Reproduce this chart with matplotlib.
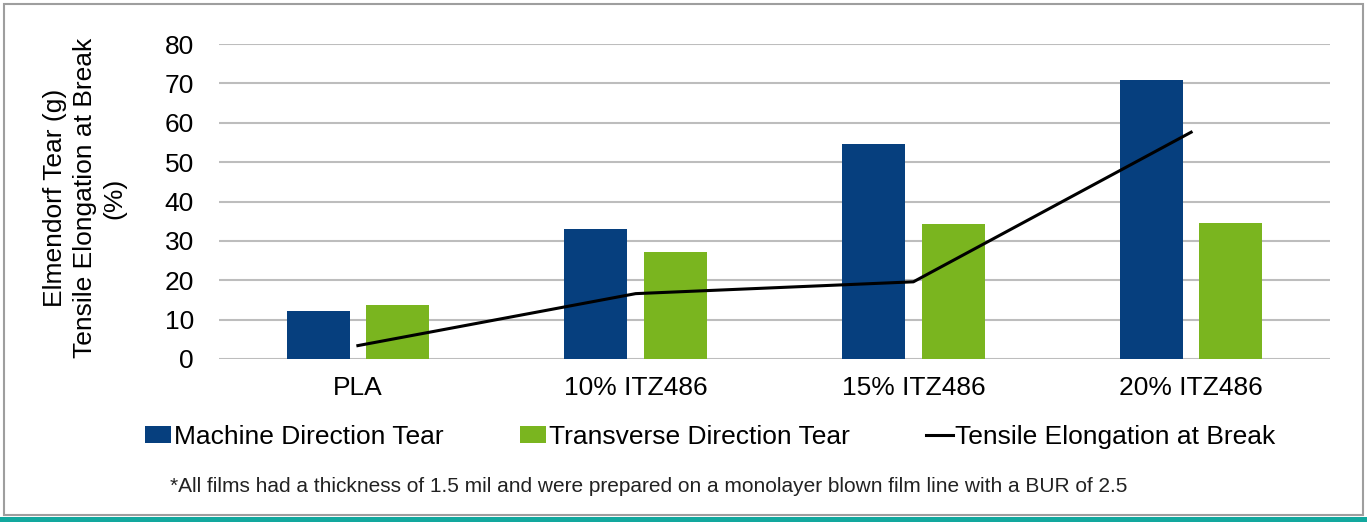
import numpy as np
import matplotlib.pyplot as plt
from matplotlib.patches import Rectangle

plt.rcParams['font.family'] = ['Liberation Sans', 'DejaVu Sans']

categories = ['PLA', '10% ITZ486', '15% ITZ486', '20% ITZ486']
md_tear = [12.3, 33.0, 54.7, 70.8]
td_tear = [13.8, 27.2, 34.3, 34.5]
elongation = [3.4, 16.6, 19.6, 57.6]

navy = '#063F7E'
green = '#7AB51F'
teal = '#12A89E'
fs = 19

fig = plt.figure(figsize=(13.67, 5.22), dpi=100)
ax = fig.add_axes([219/1367, 1-359/522, 1111/1367, 315/522])

x = np.arange(len(categories))
w = 0.227
off = 0.143
b1 = ax.bar(x - off, md_tear, w, color=navy, label='Machine Direction Tear', zorder=2)
b2 = ax.bar(x + off, td_tear, w, color=green, label='Transverse Direction Tear', zorder=2)
ln, = ax.plot(x, elongation, color='black', lw=2.2, label='Tensile Elongation at Break', zorder=3)

ax.set_xlim(-0.5, 3.5)
ax.set_ylim(0, 80)
ax.set_yticks(range(0, 81, 10))
ax.set_xticks(x)
ax.set_xticklabels(categories, fontsize=fs)
ax.tick_params(axis='y', labelsize=fs, length=0, pad=18)
ax.tick_params(axis='x', length=0, pad=12)
ax.grid(axis='y', color='#BDBDBD', lw=1.5, zorder=0)
for s in ax.spines.values():
    s.set_visible(False)

fig.text(85/1367, 1-198/522, 'Elmendorf Tear (g)\nTensile Elongation at Break\n(%)',
         rotation=90, ha='center', va='center', fontsize=fs, linespacing=1.3)

ax.legend([b1, b2, ln], [b1.get_label(), b2.get_label(), ln.get_label()],
          loc='center', bbox_to_anchor=(710/1367, 1-437/522), bbox_transform=fig.transFigure,
          ncol=3, frameon=False, fontsize=fs, handlelength=1.0, handleheight=0.6,
          handletextpad=0.1, columnspacing=2.9)

fig.text(170/1367, 1-487/522,
         '*All films had a thickness of 1.5 mil and were prepared on a monolayer blown film line with a BUR of 2.5',
         fontsize=15, ha='left', va='center', color='#222222')

# frame and bottom stripe
fig.patches.append(Rectangle((4/1367, 7/522), 1359/1367, 511/522, transform=fig.transFigure,
                             fill=False, edgecolor='#9E9E9E', lw=1.5))
fig.patches.append(Rectangle((0, 0), 1, 5/522, transform=fig.transFigure,
                             color=teal, lw=0))

fig.savefig('out.png', dpi=100)
